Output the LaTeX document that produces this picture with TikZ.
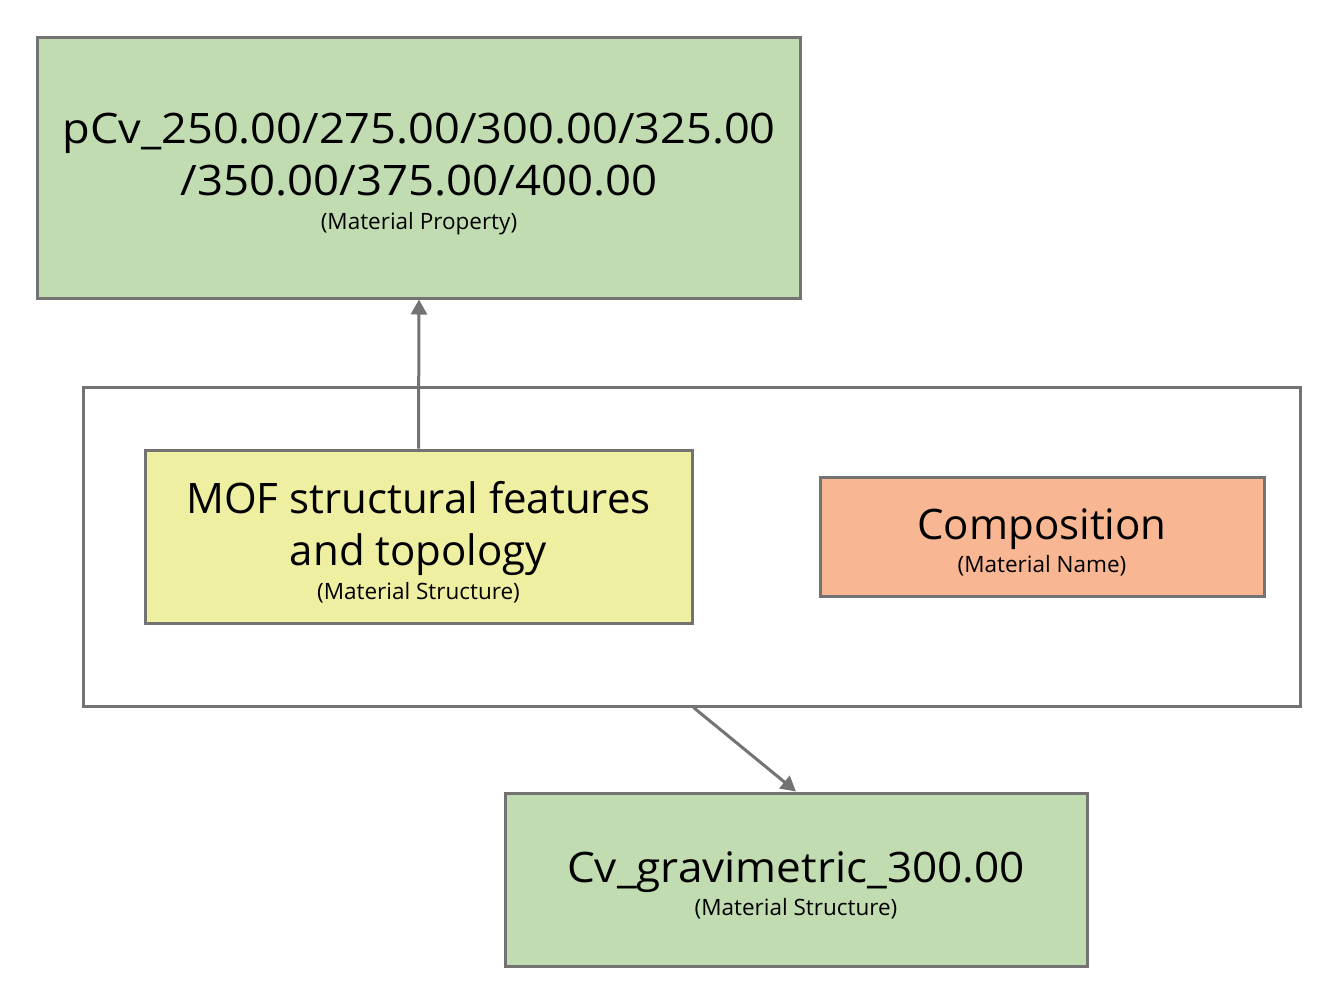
\documentclass[tikz,border=0pt]{standalone}
\usepackage{fontspec}
\setmainfont{Open Sans}
\usetikzlibrary{arrows.meta}
\definecolor{boxgreen}{RGB}{194,220,178}
\definecolor{boxyellow}{RGB}{239,239,162}
\definecolor{boxorange}{RGB}{248,183,146}
\definecolor{edgegray}{RGB}{115,115,115}
\newcommand{\mainf}{\fontsize{42}{52}\selectfont}
\newcommand{\subf}{\fontsize{22.5}{52}\selectfont}
\newcommand{\wide}[2]{\scalebox{#1}[1]{#2}}
\newcommand{\topstrut}{\rule{0pt}{43pt}}
\tikzset{
  box/.style={draw=edgegray, line width=3pt, rectangle, align=center, inner sep=0pt, text=black, font=\mainf},
  conn/.style={draw=edgegray, line width=3pt, -{Triangle[length=15pt,width=16pt]}}
}
\begin{document}
\begin{tikzpicture}[x=1pt,y=-1pt]
\useasboundingbox (0,0) rectangle (1332,1002);
\node[box, fill=boxgreen, minimum width=763pt, minimum height=261pt] (prop) at (419,167.5)
  {\topstrut\wide{1.075}{pCv\_250.00/275.00/300.00/325.00}\\\wide{1.085}{/350.00/375.00/400.00}\\[-18pt]\subf (Material Property)};
\node[box, fill=white, minimum width=1217pt, minimum height=319pt] (outer) at (691.5,546.5) {};
\node[box, fill=boxyellow, minimum width=547pt, minimum height=173pt] (struct) at (418.5,536.5)
  {\topstrut MOF structural features\\and topology\\[-18pt]\subf (Material Structure)};
\node[box, fill=boxorange, minimum width=444pt, minimum height=119pt] (comp) at (1042,536.5)
  {\topstrut Composition\\[-19pt]\subf (Material Name)};
\node[box, fill=boxgreen, minimum width=582pt, minimum height=173pt] (cv) at (796,879.5)
  {\topstrut\wide{1.05}{Cv\_gravimetric\_300.00}\\[-19pt]\subf (Material Structure)};
\draw[conn] (struct.north) -- (prop.south);
\draw[conn] (struct.east |- outer.south) -- (cv.north);
\end{tikzpicture}
\end{document}
